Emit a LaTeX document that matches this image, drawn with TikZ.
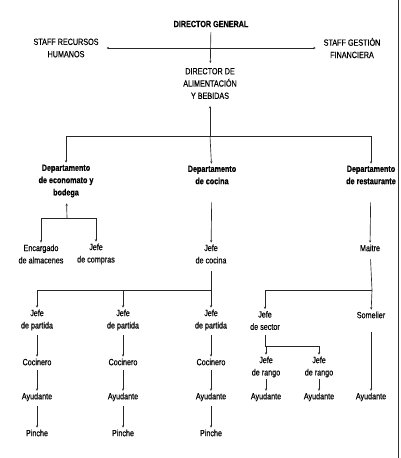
\documentclass[tikz,border=0pt]{standalone}
\usepackage{fontspec}
\setmainfont[FakeStretch=0.8, FakeBold=0.4]{Liberation Sans}
\newfontfamily\deptface[FakeStretch=0.8, FakeBold=0.6, UprightFont={* Bold}]{Liberation Sans}
\usetikzlibrary{arrows.meta, positioning}
\tikzset{x=1pt,y=-1pt}
\tikzset{
  org/.style={align=center, inner sep=0pt, outer sep=2pt,
    font=\fontsize{9}{12.3}\selectfont},
  dept/.style={org, font=\fontsize{9}{12.3}\deptface},
  link/.style={draw=black!85, line width=0.65pt,
    -{Stealth[length=2.4pt,width=2.2pt]}},
  linkup/.style={draw=black!85, line width=0.65pt,
    {Stealth[length=2.4pt,width=2.2pt]}-},
  bar/.style={draw=black!85, line width=0.65pt},
}

\begin{document}
\begin{tikzpicture}
\useasboundingbox (0,0) rectangle (400,458);
    % top of the chart
    \node[dept] (dg) at (211,24) {DIRECTOR GENERAL};
    \node[org] (srh) at (66,48) {STAFF RECURSOS\\HUMANOS};
    \node[org] (sgf) at (352,48) {STAFF GESTIÓN\\FINANCIERA};
    \node[org] (dab) at (210,83.5) {DIRECTOR DE\\ALIMENTACIÓN\\Y BEBIDAS};
    \draw[link, {Stealth[length=2.4pt,width=2.2pt]}-{Stealth[length=2.4pt,width=2.2pt]},
      shorten <=6pt, shorten >=6pt] (srh) -- (sgf);
    \draw[link, shorten <=3pt, shorten >=3pt] (dg) -- (dab);

    % departments
    \node[dept] (deco) at (66,181) {Departamento\\de economato y\\bodega};
    \node[dept] (dcoc) at (212,175) {Departamento\\de cocina};
    \node[dept] (dres) at (371,175) {Departamento\\de restaurante};
    \coordinate (bus) at (210,136);
    \draw[linkup, shorten <=5pt] (dab) -- (bus);
    \draw[link] (bus) -| (deco);
    \draw[link] (bus) -- (dcoc);
    \draw[link] (bus) -| (dres);

    % economato y bodega
    \node[org] (enc) at (41,254) {Encargado\\de almacenes};
    \node[org] (jcom) at (96,254) {Jefe\\de compras};
    \coordinate (ebus) at (67,218);
    \draw[linkup, shorten <=4pt] (deco) -- (ebus);
    \draw[link] (ebus) -| (enc);
    \draw[link] (ebus) -| (jcom);

    % cocina
    \node[org] (jcoc) at (211,254) {Jefe\\de cocina};
    \draw[link, shorten <=16pt] (dcoc) -- (jcoc);
    \coordinate (cbus) at (211,290);
    \draw[bar, shorten <=6pt] (jcoc) -- (cbus);
    \foreach \n/\x in {pa/37, pb/123, pc/211} {
      \node[org] (\n-jefe) at (\x,320) {Jefe\\de partida};
      \node[org] (\n-coc) at (\x,362) {Cocinero};
      \node[org] (\n-ay) at (\x,397) {Ayudante};
      \node[org] (\n-pin) at (\x,433) {Pinche};
      \draw[link] (cbus) -| (\n-jefe);
      \draw[link, shorten <=3pt] (\n-jefe) -- (\n-coc);
      \draw[link, shorten <=3pt] (\n-coc) -- (\n-ay);
      \draw[link, shorten <=3pt] (\n-ay) -- (\n-pin);
    }

    % restaurante
    \node[org] (mai) at (370,248) {Maitre};
    \draw[link, shorten <=16pt] (dres) -- (mai);
    \coordinate (rbus) at (372,290);
    \draw[bar, shorten <=6pt] (mai) -- (rbus);
    \node[org] (jsec) at (265,320.5) {Jefe\\de sector};
    \node[org] (som) at (371,315) {Somelier};
    \draw[link] (rbus) -| (jsec);
    \draw[link] (rbus) -- (som);
    \node[org] (jr1) at (266,367) {Jefe\\de rango};
    \node[org] (jr2) at (319,367) {Jefe\\de rango};
    \coordinate (sbus) at (265,346);
    \draw[bar, shorten <=3pt] (jsec) -- (sbus);
    \draw[link] (sbus) -| (jr1);
    \draw[link] (sbus) -| (jr2);
    \node[org] (ay1) at (266,397) {Ayudante};
    \node[org] (ay2) at (319,397) {Ayudante};
    \node[org] (ay3) at (371,397) {Ayudante};
    \draw[link] (jr1) -- (ay1);
    \draw[link] (jr2) -- (ay2);
    \draw[link, shorten <=12pt] (som) -- (ay3);

    % page edge
    \draw[line width=0.9pt, black!80] (398.5,0) -- (398.5,458);
\end{tikzpicture}
\end{document}
